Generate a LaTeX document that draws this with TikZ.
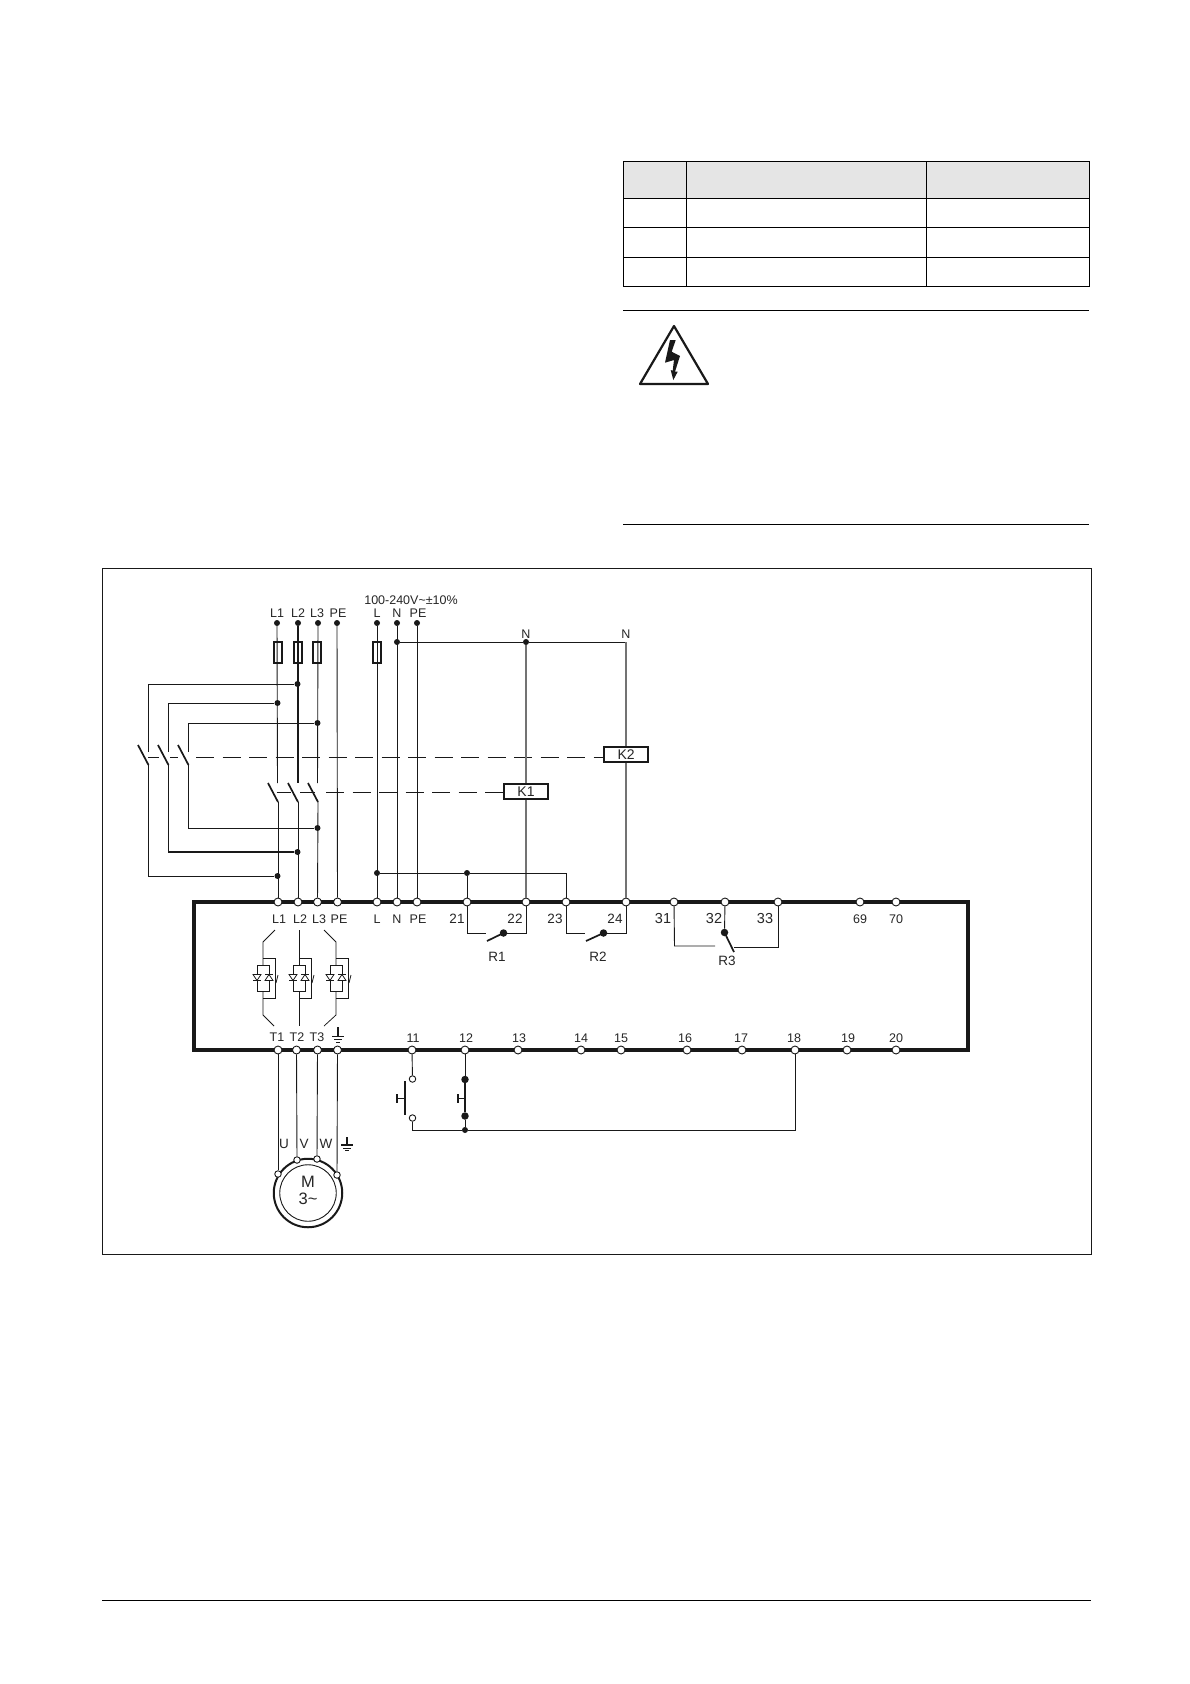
\documentclass[tikz,border=0pt]{standalone}
\usepackage{fontspec}
\setmainfont{Liberation Sans}
\begin{document}
\begin{tikzpicture}[x=1pt,y=-1pt,
 wire/.style={line width=0.9pt,black!90},
 greywire/.style={line width=1.4pt,black!55},
 thickwire/.style={line width=1.8pt,black!90},
 dashwire/.style={line width=0.9pt,black!90},
 term/.style={circle,draw=black!90,fill=white,line width=0.9pt,minimum size=8pt,inner sep=0pt},
 junc/.style={circle,fill=black!90,minimum size=6pt,inner sep=0pt},
 jbig/.style={circle,fill=black!90,minimum size=7.5pt,inner sep=0pt},
 ot/.style={circle,draw=black!90,fill=white,line width=0.9pt,minimum size=6.5pt,inner sep=0pt},
 fuse/.style={draw=black!90,line width=1.9pt,fill=none,minimum width=8pt,minimum height=21.5pt,inner sep=0pt,outer sep=0pt},
 lab/.style={font=\fontsize{12.5}{13}\selectfont,text=black!85,inner sep=0pt},
 labm/.style={font=\fontsize{13.5}{14}\selectfont,text=black!85,inner sep=0pt},
 labb/.style={font=\fontsize{14.5}{15}\selectfont,text=black!85,inner sep=0pt},
 labm2/.style={font=\fontsize{16.5}{17}\selectfont,text=black!85,inner sep=0pt},
 coil/.style={draw=black!90,line width=1.8pt,fill=white,minimum width=44pt,minimum height=14.5pt,inner sep=0pt,font=\fontsize{14}{15}\selectfont,text=black!85},
 blade/.style={line width=1.7pt,black!90},
 rulel/.style={line width=0.9pt,black},
 box/.style={line width=4.1pt,black!90,line join=miter}]
\useasboundingbox (0,0) rectangle (1190,1684);
\fill[white] (0,0) rectangle (1190,1684);
% table
\fill[black!10] (623,161.5) rectangle (1089,198);
\draw[rulel] (623,161.5) rectangle (1089,286);
\foreach \y in {198,227,257} \draw[rulel] (623,\y) -- (1089,\y);
\foreach \x in {686,926} \draw[rulel] (\x,161.5) -- (\x,286);
\draw[rulel] (623,310) -- (1089,310);
\draw[rulel] (623,524) -- (1089,524);
% warning triangle
\draw[line width=2.2pt,line join=round,black!90] (674,326) -- (708,384) -- (640,384) -- cycle;
\fill[black!90] (670,340) -- (675.7,340) -- (671.7,351.7) -- (680,356) -- (675,371.7) -- (677.7,371.7) -- (673.3,380) -- (670.7,370) -- (672.7,370.7) -- (674,360) -- (665,362.7) -- cycle;
% frame and footer
\draw[line width=0.9pt,black!90] (102,568.5) rectangle (1091,1254.5);
\draw[rulel] (102,1600) -- (1091,1600);
% module
\draw[box] (194,902) rectangle (968,1049.7);
% coordinates
\coordinate (sL1) at (277,623); \coordinate (sL2) at (298,623); \coordinate (sL3) at (318,623); \coordinate (sPE) at (337,623);
\coordinate (sL) at (377,623); \coordinate (sN) at (397,623); \coordinate (sP2) at (417,623);
% fuses
\node[fuse] (f1) at (278,652.5) {};
\node[fuse] (f2) at (298,652.5) {};
\node[fuse] (f3) at (317,652.5) {};
\node[fuse] (f4) at (377,652.5) {};
% dashed mechanical links
\foreach \a/\b in {148.3/159.3,170/178.3,196/214,222.5/240.5,249/267,275.5/293.5,302/320,328.5/346.5,355/373,381.5/399.5,408/426,434.5/452.5,461/479,487.5/505.5,514/532,540.5/558.5,567/585,593.5/604}
  \draw[dashwire] (\a,757.3) -- (\b,757.3);
\foreach \a/\b in {276.7/291,300/315,326/344,352.5/370.5,379/397,405.5/423.5,432/450,458.5/476.5,485/503}
  \draw[dashwire] (\a,792.4) -- (\b,792.4);
% top terminals on module
\foreach \n/\x in {tL1/278,tL2/298,tL3/317.5,tPE/337.5,tL/377,tN/397,tP/417,t21/467,t22/526,t23/566,t24/626,t31/674,t32/725,t33/778,t69/860,t70/896}
  \node[term] (\n) at (\x,902) {};
\foreach \n/\x in {b1/278,b2/296.5,b3/317.5,b4/337.5,b11/412,b12/465,b13/518,b14/581,b15/621,b16/687,b17/742,b18/795,b19/847,b20/896}
  \node[term] (\n) at (\x,1050) {};
% junctions feed
\node[junc] (dL1) at (sL1) {}; \node[junc] (dL2) at (sL2) {}; \node[junc] (dL3) at (sL3) {}; \node[junc] (dPE) at (sPE) {};
\node[junc] (dL) at (sL) {}; \node[junc] (dN) at (sN) {}; \node[junc] (dP2) at (sP2) {};
\node[junc] (jN) at (397,642) {};
\node[junc] (jN2) at (526,642) {};
\coordinate (cN) at (626,642);
\node[junc] (u2) at (297.5,684) {};
\node[junc] (u1) at (277.5,703) {};
\node[junc] (u3) at (317.5,723) {};
\node[junc] (l3) at (317.5,828) {};
\node[junc] (l2) at (297.5,852) {};
\node[junc] (l1) at (277.5,876) {};
\node[junc] (jL) at (377,873) {};
\node[junc] (j21) at (467,873) {};
% supply wires
\coordinate (sw1a) at (277.5,783); \coordinate (sw2a) at (298,783); \coordinate (sw3a) at (317.5,783);
\draw[wire] (dL1) -- (sw1a);
\draw[thickwire] (dL2) -- (sw2a);
\draw[wire] (dL3) -- (sw3a);
\draw[wire] (dPE) -- (tPE);
\draw[wire] (dL) -- (tL);
\draw[wire] (dN) -- (tN);
\draw[wire] (dP2) -- (tP);
% blades K1
\draw[blade] (268,783) -- (278,802);
\draw[blade] (288,783) -- (298,802);
\draw[blade] (308,783) -- (318,802);
\draw[wire] (278,802) -- (tL1);
\draw[wire] (298,802) -- (tL2);
\draw[wire] (318,802) -- (tL3);
% reversing contactor
\coordinate (a1) at (148,684); \coordinate (a2) at (168,703); \coordinate (a3) at (188,723);
\coordinate (a1b) at (148,752); \coordinate (a2b) at (168,752); \coordinate (a3b) at (188,752);
\draw[wire] (u2) -- (a1) -- (a1b);
\draw[wire] (u1) -- (a2) -- (a2b);
\draw[wire] (u3) -- (a3) -- (a3b);
\draw[blade] (138,745) -- (148.5,765);
\draw[blade] (158,745) -- (168.5,765);
\draw[blade] (178,745) -- (188.5,765);
\coordinate (c1) at (148.5,765); \coordinate (c2) at (168.5,765); \coordinate (c3) at (188.5,765);
\draw[wire] (c3) |- (l3);
\draw[thickwire] (c2) |- (l2);
\draw[wire] (c1) |- (l1);
% N and L bus
\draw[wire] (jN) -- (jN2) -- (cN);
\draw[greywire] (cN) -- (t24);
\draw[greywire] (jN2) -- (t22);
\draw[wire] (jL) -- (j21) -- (t21);
\coordinate (c23) at (566,873);
\draw[wire] (j21) -- (c23) -- (t23);
% coils
\node[coil] (K2) at (626.2,754.5) {K2};
\node[coil] (K1) at (526,791.5) {K1};
% relays
\coordinate (r1a) at (467,933); \coordinate (r1b) at (486,933);
\node[jbig] (r1d) at (503.5,933) {};
\draw[wire] (t21) -- (r1a) -- (r1b);
\draw[blade] (487,941) -- (r1d.center);
\draw[wire] (r1d) -| (t22);
\coordinate (r2a) at (566,933); \coordinate (r2b) at (585,933);
\node[jbig] (r2d) at (603.5,933) {};
\draw[wire] (t23) -- (r2a) -- (r2b);
\draw[blade] (586,941) -- (r2d.center);
\draw[wire] (r2d) -| (t24);
\coordinate (r3a) at (674.5,946); \coordinate (r3b) at (715,946);
\node[jbig] (r3d) at (724.5,932.5) {};
\draw[wire] (t31) -- (r3a) -- (r3b);
\draw[wire] (t32) -- (r3d);
\coordinate (r3e) at (734,952); \coordinate (r3f) at (778,947); \coordinate (r3g) at (734,947);
\draw[blade] (r3d.center) -- (r3e);
\draw[wire] (r3g) -- (r3f) -- (t33);
% thyristors
\begin{scope}[line width=0.75pt,black!90]
\draw (275,930) -- (263,942) -- (263,965) (263,991) -- (263,1015) -- (274,1026);
\draw (299,930) -- (299,965) (299,991) -- (299,1026);
\draw (324,930) -- (336,942) -- (336,965) (336,991) -- (336,1015) -- (324,1026);
\foreach \c in {263,299,336}{
 \draw (\c-6,965) rectangle (\c+6,991);
 \draw (\c,958) -- (\c+12,958) -- (\c+12,998) -- (\c,998);
 \fill[white] (\c-10,974) rectangle (\c-2,981);
 \fill[white] (\c+2,974) rectangle (\c+10,981);
 \draw (\c-10,974.5) -- (\c-2,974.5) -- (\c-6,980.5) -- cycle;
 \draw (\c-10,980.5) -- (\c-2,980.5);
 \draw (\c+2,980.5) -- (\c+10,980.5) -- (\c+6,974.5) -- cycle;
 \draw (\c+2,974.5) -- (\c+10,974.5);
 \draw (\c+13,983) -- (\c+15,975);
}
\end{scope}
% earth module
\coordinate (e1) at (338,1027);
\draw[line width=1.1pt,black!90] (e1) -- (338,1037);
\draw[line width=1.2pt,black!90] (332,1036.5) -- (344,1036.5);
\draw[line width=1pt,black!90] (334,1039.5) -- (342,1039.5);
\draw[line width=1pt,black!90] (336,1042) -- (340,1042);
% motor
\node[circle,draw=black!90,line width=2pt,minimum size=68.5pt,inner sep=0pt,fill=white] (mo) at (308,1193) {};
\node[circle,draw=black!90,line width=0.9pt,minimum size=56.5pt,inner sep=0pt] (mi) at (308,1193) {};
\node[labm2] (mt) at (308,1181.5) {M};
\node[labm2] (mt2) at (308,1199) {3\textasciitilde};
\node[ot] (mU) at (278,1174) {};
\node[ot] (mV) at (297,1160) {};
\node[ot] (mW) at (317,1159) {};
\node[ot] (mX) at (337,1175) {};
\draw[wire] (b1) -- (mU);
\draw[wire] (b2) -- (mV);
\draw[wire] (b3) -- (mW);
\draw[wire] (b4) -- (mX);
\draw[line width=1.1pt,black!90] (347,1137) -- (347,1145);
\draw[line width=1.2pt,black!90] (341,1145) -- (353,1145);
\draw[line width=1pt,black!90] (343,1148) -- (351,1148);
\draw[line width=1pt,black!90] (345,1150.5) -- (349,1150.5);
% buttons
\node[ot] (s1) at (412.5,1079) {};
\node[ot] (s2) at (412.5,1118) {};
\node[jbig] (s3) at (465,1079.5) {};
\node[jbig] (s4) at (465,1116) {};
\node[junc] (s5) at (465,1130) {};
\coordinate (s0) at (412.5,1130); \coordinate (s6) at (795,1130);
\draw[wire] (b11) -- (s1);
\draw[wire] (s2) -- (s0) -- (s5) -- (s6) -- (b18);
\draw[wire] (b12) -- (s3);
\draw[thickwire] (s3) -- (s4);
\draw[wire] (s4) -- (s5);
\draw[line width=1.7pt,black!90] (405,1081) -- (405,1115);
\draw[line width=1.5pt,black!90] (397,1098.5) -- (405,1098.5);
\draw[line width=1.5pt,black!90] (397,1094) -- (397,1103);
\draw[line width=1.5pt,black!90] (458,1098.5) -- (465,1098.5);
\draw[line width=1.5pt,black!90] (458,1094) -- (458,1103);
% labels
\foreach \n/\t/\x/\y in {nA/L1/277/613,nB/L2/298/613,nC/L3/317/613,nD/PE/338/613,nE/L/377/613,nF/N/397/613,nG/PE/418/613,
 nH/L1/279/919,nI/L2/300/919,nJ/L3/319/919,nK/PE/339/919,nL/L/377/919,nM/N/397/919,nO/PE/418/919,
 nV/T1/277/1037,nW/T2/297/1037,nX/T3/317/1037,
 nb1/11/413/1038,nb2/12/466/1038,nb3/13/519/1038,nb4/14/581/1038,nb5/15/621/1038,nb6/16/685/1038,nb7/17/741/1038,nb8/18/794/1038,nb9/19/848/1038,nb0/20/896/1038,
 nN1/N/526/634,nN2/N/626/634,nT/69/860/919,nU/70/896/919}
  \node[lab] (\n) at (\x,\y) {\t};
\node[lab,font=\fontsize{12.5}{13}\selectfont] (volt) at (411,600) {100-240V\textasciitilde±10\%};
\foreach \n/\t/\x/\y in {nP/21/457/919,nQ/22/515/919,nR/23/555/919,nS/24/615/919,rA/R1/497/957,rB/R2/598/957,rC/R3/727/961,mUl/U/284/1144,mVl/V/304/1144,mWl/W/326/1144}
  \node[labm] (\n) at (\x,\y) {\t};
\foreach \n/\t/\x/\y in {r31/31/663/918,r32/32/714/918,r33/33/765/918}
  \node[labb] (\n) at (\x,\y) {\t};
\end{tikzpicture}
\end{document}
